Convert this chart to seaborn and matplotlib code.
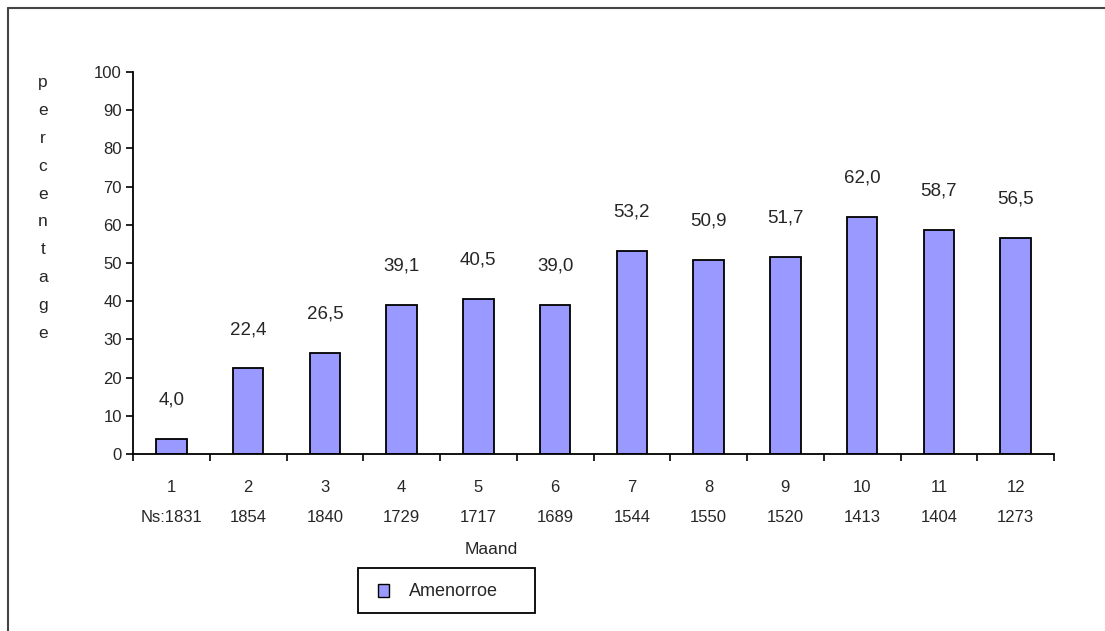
import matplotlib
matplotlib.use("Agg")
import matplotlib.pyplot as plt
import seaborn as sns
import pandas as pd
import numpy as np
from matplotlib.lines import Line2D
from matplotlib.patches import Patch, Rectangle

months = ["1", "2", "3", "4", "5", "6", "7", "8", "9", "10", "11", "12"]
counts = ["Ns:1831", "1854", "1840", "1729", "1717", "1689", "1544", "1550", "1520", "1413", "1404", "1273"]
amenorroe = [4.0, 22.4, 26.5, 39.1, 40.5, 39.0, 53.2, 50.9, 51.7, 62.0, 58.7, 56.5]
series_name = "Amenorroe"
y_ticks = [0, 10, 20, 30, 40, 50, 60, 70, 80, 90, 100]

sns.set_style("white")
plt.rcParams['font.family'] = ['Liberation Sans', 'DejaVu Sans']

W, H = 1105, 631
df = pd.DataFrame({"cat": [f"{m}\n{c}" for m, c in zip(months, counts)], "val": amenorroe})

fig = plt.figure(figsize=(W/100, H/100), dpi=100)
ax = fig.add_axes([133/W, 177/H, (1054-133)/W, (454-72)/H])
bar_color = "#9999FF"
sns.barplot(data=df, x="cat", y="val", ax=ax, color=bar_color, width=0.4,
            edgecolor="black", linewidth=1.3, saturation=1)

ax.set_ylim(0, 100)
ax.set_xlim(-0.5, len(months) - 0.5)
ax.set_yticks(y_ticks)
ax.set_yticklabels([str(t) for t in y_ticks], fontsize=12)
ax.set_xticks(range(len(months)))
ax.set_xticklabels([f"{m}\n{c}" for m, c in zip(months, counts)], fontsize=12, linespacing=2.2)
ax.set_xticks(np.arange(-0.5, len(months)), minor=True)
ax.tick_params(axis="x", which="major", length=0, pad=19)
ax.tick_params(axis="x", which="minor", length=5, width=1.2, direction="out", color="black", bottom=True)
ax.tick_params(axis="y", length=5, width=1.2, direction="out", color="black", left=True, pad=3)

for s in ["top", "right"]:
    ax.spines[s].set_visible(False)
for s in ["left", "bottom"]:
    ax.spines[s].set_color("black")
    ax.spines[s].set_linewidth(1.3)

for i, v in enumerate(amenorroe):
    ax.annotate(f"{v:.1f}".replace(".", ","), (i, v), xytext=(0, 28), textcoords="offset points",
                ha="center", va="center", fontsize=13.5)

ax.set_xlabel("")
ax.set_ylabel("")
fig.text(491/W, 1 - 549/H, "Maand", ha="center", va="center", fontsize=12.5)
fig.text(43/W, 1 - 208/H, "\n".join("percentage"), ha="center", va="center",
         fontsize=12.5, linespacing=2.08)

# legend frame
fig.add_artist(Rectangle((358/W, 1 - 613/H), (535-358)/W, 45/H, transform=fig.transFigure,
                         facecolor="white", edgecolor="black", linewidth=1.3))
leg = fig.legend(handles=[Patch(facecolor=bar_color, edgecolor="black", linewidth=1.0, label=series_name)],
                 loc="center left", bbox_to_anchor=(378/W, 1 - 592/H), frameon=False,
                 fontsize=13, handlelength=0.6, handleheight=0.72, borderpad=0, handletextpad=1.1,
                 borderaxespad=0)

fig.add_artist(Line2D([8/W, 1.0], [1 - 8/H, 1 - 8/H], color="#444444", linewidth=1.5, transform=fig.transFigure))
fig.add_artist(Line2D([8/W, 8/W], [0, 1 - 8/H], color="#444444", linewidth=1.5, transform=fig.transFigure))

fig.savefig("out.png", dpi=100)
